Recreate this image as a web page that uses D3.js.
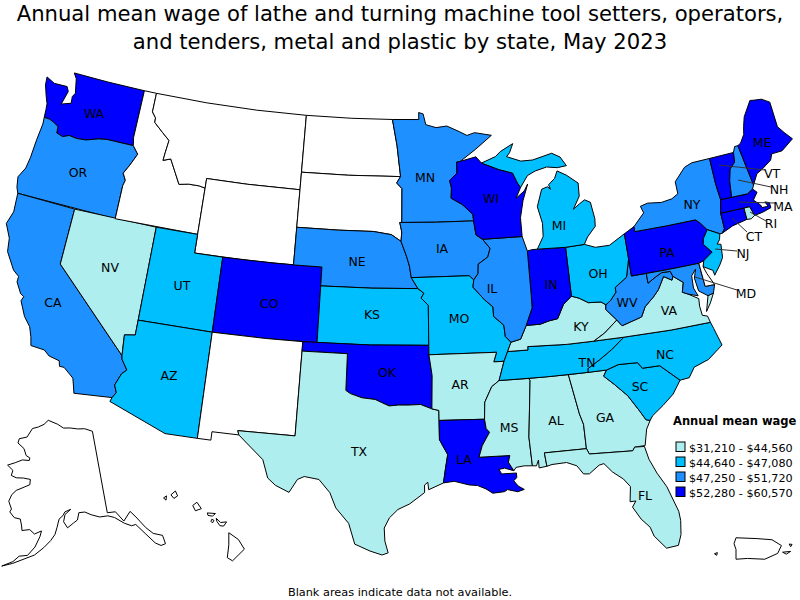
<!DOCTYPE html>
<html><head><meta charset="utf-8">
<script src="https://cdn.jsdelivr.net/npm/d3@7"></script>
<style>html,body{margin:0;background:#fff}svg{display:block}text{font-family:"DejaVu Sans",sans-serif;fill:#000}</style>
</head><body><svg id="c" width="800" height="600"></svg>
<script>
const titleLines=["Annual mean wage of lathe and turning machine tool setters, operators,","and tenders, metal and plastic by state, May 2023"];
const footnote="Blank areas indicate data not available.";
const legendTitle="Annual mean wage";
const binLabels=["$31,210 - $44,560","$44,640 - $47,080","$47,250 - $51,720","$52,280 - $60,570"];
const binColors=["#AFEEEE","#00BFFF","#1E90FF","#0000FF"];
const bin0=["NV","TX","AR","MS","AL","GA","FL","KY","VA","RI"];
const bin1=["UT","AZ","KS","MO","MI","OH","TN","NC","SC","NJ"];
const bin2=["OR","CA","NE","MN","IA","IL","NY","WV","MD","NH"];
const bin3=["WA","CO","OK","LA","WI","IN","PA","ME","VT","MA","CT"];
const bins=[bin0,bin1,bin2,bin3];

// State outlines as longitude/latitude rings
const shapes={
WA:[[[-122.76,49],[-120,49],[-117.03,49],[-117.04,46.42],[-116.92,45.995],[-118.98,46],[-119.6,45.92],[-120.5,45.7],[-121.2,45.65],[-121.8,45.7],[-122.25,45.55],[-122.75,45.65],[-122.8,46],[-123.2,46.15],[-123.55,46.25],[-124,46.27],[-124.05,46.7],[-124.1,47],[-124.35,47.4],[-124.65,47.95],[-124.72,48.38],[-124.03,48.16],[-123,48.19],[-122.8,47.95],[-123.05,47.2],[-122.33,47.39],[-122.39,47.75],[-122.23,47.96],[-122.48,48.73]]],
OR:[[[-124,46.27],[-123.55,46.25],[-123.2,46.15],[-122.8,46],[-122.75,45.65],[-122.25,45.55],[-121.8,45.7],[-121.2,45.65],[-120.5,45.7],[-119.6,45.92],[-118.98,46],[-116.92,45.995],[-116.46,45.6],[-116.85,44.95],[-117.2,44.45],[-116.93,44.1],[-117.03,43.8],[-117.03,42],[-124.21,42],[-124.4,42.3],[-124.55,42.84],[-124.2,43.4],[-124.1,44],[-124.05,45],[-123.95,45.9]]],
CA:[[[-124.21,42],[-120,42],[-120,39],[-114.63,35],[-114.57,34.8],[-114.14,34.3],[-114.43,34.05],[-114.72,33.4],[-114.52,33.03],[-114.72,32.72],[-117.12,32.53],[-117.25,32.9],[-117.4,33.3],[-118.1,33.75],[-118.4,33.75],[-118.5,34.03],[-119.2,34.15],[-119.6,34.4],[-120.5,34.45],[-120.65,34.9],[-120.9,35.4],[-121.4,35.85],[-121.9,36.6],[-121.8,36.85],[-122.05,36.95],[-122.5,37.5],[-122.5,37.8],[-122.95,38.05],[-123.7,38.9],[-123.85,39.6],[-124.35,40.3],[-124.1,41]]],
NV:[[[-120,42],[-114.04,42],[-114.04,36.2],[-114.74,36.1],[-114.63,35],[-120,39]]],
ID:[[[-117.03,49],[-116.05,49],[-116.05,47.98],[-115.72,47.7],[-115.7,47.45],[-114.95,47],[-114.35,46.65],[-114.45,46],[-114.5,45.55],[-113.95,45.7],[-113.45,45.05],[-113,44.45],[-112.3,44.55],[-111.5,44.55],[-111.05,44.48],[-111.05,42],[-117.03,42],[-117.03,43.8],[-116.93,44.1],[-117.2,44.45],[-116.85,44.95],[-116.46,45.6],[-116.92,45.995],[-117.04,46.42]]],
MT:[[[-116.05,49],[-112,49],[-108,49],[-104.05,49],[-104.05,45],[-108,45],[-111.05,45],[-111.05,44.48],[-111.5,44.55],[-112.3,44.55],[-113,44.45],[-113.45,45.05],[-113.95,45.7],[-114.5,45.55],[-114.45,46],[-114.35,46.65],[-114.95,47],[-115.7,47.45],[-115.72,47.7],[-116.05,47.98]]],
WY:[[[-111.05,45],[-108,45],[-104.05,45],[-104.05,41],[-107.5,41],[-111.05,41]]],
UT:[[[-114.04,42],[-111.05,42],[-111.05,41],[-109.05,41],[-109.05,37],[-114.04,37]]],
CO:[[[-109.05,41],[-105.5,41],[-102.05,41],[-102.05,37],[-105.5,37],[-109.05,37]]],
AZ:[[[-114.04,37],[-109.05,37],[-109.05,31.33],[-111.07,31.33],[-114.81,32.5],[-114.72,32.72],[-114.52,33.03],[-114.72,33.4],[-114.43,34.05],[-114.14,34.3],[-114.57,34.8],[-114.63,35],[-114.74,36.1],[-114.04,36.2]]],
NM:[[[-109.05,37],[-105.5,37],[-103,37],[-103,36.5],[-103.04,32],[-106.62,32],[-106.53,31.78],[-108.21,31.78],[-108.21,31.33],[-109.05,31.33]]],
ND:[[[-104.05,49],[-100.5,49],[-97.23,49],[-96.85,47.6],[-96.56,45.94],[-100.5,45.94],[-104.05,45.94]]],
SD:[[[-104.05,45.94],[-100.5,45.94],[-96.56,45.94],[-96.85,45.6],[-96.45,45.3],[-96.45,43.5],[-96.6,43.5],[-96.45,43],[-96.5,42.5],[-97.2,42.85],[-98.5,43],[-101,43],[-104.05,43]]],
NE:[[[-104.05,43],[-101,43],[-98.5,43],[-97.2,42.85],[-96.5,42.5],[-96.1,41.7],[-95.9,41.2],[-95.77,40.58],[-95.31,40],[-98.5,40],[-102.05,40],[-102.05,41],[-104.05,41]]],
KS:[[[-102.05,40],[-98.5,40],[-95.31,40],[-94.9,39.75],[-95.1,39.5],[-94.61,39.11],[-94.62,37],[-98.5,37],[-102.05,37]]],
OK:[[[-103,37],[-98.5,37],[-94.62,37],[-94.62,36.5],[-94.43,35.4],[-94.48,33.64],[-95.2,33.88],[-96,33.85],[-96.6,33.85],[-97.2,33.8],[-97.7,33.98],[-98.1,34.13],[-98.95,34.2],[-99.7,34.4],[-100,34.56],[-100,36.5],[-103,36.5]]],
TX:[[[-103,36.5],[-100,36.5],[-100,34.56],[-99.7,34.4],[-98.95,34.2],[-98.1,34.13],[-97.7,33.98],[-97.2,33.8],[-96.6,33.85],[-96,33.85],[-95.2,33.88],[-94.48,33.64],[-94.04,33.55],[-94.04,33.02],[-94.04,32],[-93.55,31.2],[-93.7,30.5],[-93.85,29.7],[-94.75,29.35],[-94.8,29.75],[-95,29.6],[-95,29.2],[-95.9,28.6],[-96.6,28.3],[-97.1,27.85],[-97.4,27.3],[-97.35,26.6],[-97.15,25.97],[-97.5,25.85],[-98.2,26.05],[-99.1,26.4],[-99.5,27.5],[-100.3,28.3],[-100.7,29.1],[-101.4,29.77],[-102.3,29.88],[-102.7,29.7],[-103.15,28.98],[-104,29.3],[-104.5,29.65],[-104.9,30.6],[-106,31.4],[-106.53,31.78],[-106.62,32],[-103.04,32]]],
MN:[[[-97.23,49],[-95.15,49],[-95.15,49.38],[-94.8,49.3],[-94.6,48.72],[-93.8,48.55],[-92.95,48.62],[-92,48.3],[-91.4,48.07],[-90.8,48.2],[-89.5,48],[-90.8,47.3],[-92,46.7],[-92.29,46.66],[-92.29,46.08],[-92.87,45.7],[-92.75,45.3],[-92.8,44.75],[-92,44.4],[-91.25,43.85],[-91.22,43.5],[-94,43.5],[-96.45,43.5],[-96.45,45.3],[-96.85,45.6],[-96.56,45.94],[-96.85,47.6]]],
IA:[[[-96.45,43.5],[-94,43.5],[-91.22,43.5],[-91.1,42.75],[-90.65,42.5],[-90.15,42],[-90.35,41.55],[-91.05,41.2],[-91.1,40.7],[-91.42,40.38],[-91.73,40.61],[-95.77,40.58],[-95.9,41.2],[-96.1,41.7],[-96.5,42.5],[-96.45,43],[-96.6,43.5]]],
MO:[[[-95.77,40.58],[-91.73,40.61],[-91.42,40.38],[-91.5,40],[-90.75,39.3],[-90.2,38.9],[-90.2,38.4],[-89.55,37.9],[-89.5,37.3],[-89.15,36.98],[-89.42,36.5],[-89.7,36],[-90.37,36],[-90.15,36.5],[-94.62,36.5],[-94.62,37],[-94.61,39.11],[-95.1,39.5],[-94.9,39.75],[-95.31,40]]],
AR:[[[-94.62,36.5],[-90.15,36.5],[-90.37,36],[-89.7,36],[-90.1,35],[-90.6,34.7],[-91.1,33.9],[-91.17,33],[-94.04,33.02],[-94.04,33.55],[-94.48,33.64],[-94.43,35.4]]],
LA:[[[-94.04,33.02],[-91.17,33],[-91.1,32.5],[-90.9,32.3],[-91.4,31.6],[-91.63,31],[-89.73,31],[-89.85,30.65],[-89.55,30.18],[-90.1,30.35],[-90.45,30.3],[-90.3,30.05],[-89.8,30.05],[-89.4,30.05],[-89.4,29.8],[-89.6,29.65],[-89.35,29.35],[-89,29.15],[-89.4,29.05],[-90,29.2],[-90.2,29.1],[-90.9,29.05],[-91.3,29.3],[-91.8,29.5],[-92.3,29.55],[-93.2,29.77],[-93.85,29.7],[-93.7,30.5],[-93.55,31.2],[-94.04,32]]],
MS:[[[-90.1,35],[-88.2,35],[-88.1,34.9],[-88.47,31.9],[-88.4,30.37],[-88.9,30.4],[-89.4,30.35],[-89.55,30.18],[-89.85,30.65],[-89.73,31],[-91.63,31],[-91.4,31.6],[-90.9,32.3],[-91.1,32.5],[-91.17,33],[-91.1,33.9],[-90.6,34.7]]],
AL:[[[-88.2,35],[-85.6,35],[-85.18,32.87],[-85,32.3],[-85,31],[-87.6,31],[-87.52,30.28],[-88,30.23],[-88,30.65],[-88.15,30.35],[-88.4,30.37],[-88.47,31.9],[-88.1,34.9]]],
GA:[[[-85.6,35],[-83.11,35],[-83.35,34.7],[-82.75,34.2],[-82,33.5],[-81.4,32.6],[-81.1,32.1],[-80.85,32.03],[-81.15,31.6],[-81.4,30.75],[-82.05,30.75],[-82.2,30.57],[-84.86,30.7],[-85,31],[-85,32.3],[-85.18,32.87]]],
FL:[[[-87.6,31],[-85,31],[-84.86,30.7],[-82.2,30.57],[-82.05,30.75],[-81.45,30.71],[-81.3,30],[-80.95,29.2],[-80.5,28.4],[-80.05,27],[-80.03,26.5],[-80.15,25.75],[-80.4,25.2],[-81.1,25.15],[-81.7,25.9],[-81.85,26.4],[-82.3,26.9],[-82.7,27.6],[-82.45,27.9],[-82.8,27.9],[-82.65,28.7],[-83,29.15],[-83.6,29.6],[-84.05,30.1],[-84.35,30.05],[-85,29.65],[-85.35,29.68],[-85.7,30.15],[-86.3,30.38],[-87.2,30.35],[-87.52,30.28]]],
SC:[[[-83.35,34.7],[-83.11,35],[-82.3,35.2],[-81.05,35.15],[-80.8,34.82],[-79.67,34.8],[-78.55,33.86],[-79.15,33.2],[-79.9,32.7],[-80.65,32.25],[-80.85,32.03],[-81.1,32.1],[-81.4,32.6],[-82,33.5],[-82.75,34.2]]],
NC:[[[-84.32,35],[-84.3,35.2],[-83.5,35.57],[-82.6,36.03],[-81.68,36.59],[-78.5,36.55],[-75.87,36.55],[-75.75,36.2],[-75.45,35.25],[-76.5,34.65],[-77.5,34.4],[-77.95,33.9],[-78.55,33.86],[-79.67,34.8],[-80.8,34.82],[-81.05,35.15],[-82.3,35.2],[-83.11,35]]],
TN:[[[-90.1,35],[-89.7,36],[-89.42,36.5],[-88.07,36.5],[-88.07,36.68],[-85.5,36.6],[-83.68,36.6],[-81.68,36.59],[-82.6,36.03],[-83.5,35.57],[-84.3,35.2],[-84.32,35],[-87,35]]],
KY:[[[-89.42,36.5],[-89.15,36.98],[-88.5,37.1],[-88.05,37.8],[-87.1,37.8],[-86.5,37.93],[-85.9,38],[-85.4,38.72],[-84.8,39.1],[-84.3,38.95],[-83.7,38.65],[-82.85,38.6],[-82.55,38.42],[-82.6,38.17],[-81.97,37.54],[-82.9,36.95],[-83.68,36.6],[-85.5,36.6],[-88.07,36.68],[-88.07,36.5]]],
VA:[[[-83.68,36.6],[-82.9,36.95],[-81.97,37.54],[-81.68,37.2],[-80.3,37.5],[-79.95,38],[-79.3,38.42],[-78.87,38.76],[-78.35,39.4],[-77.83,39.13],[-77.72,39.32],[-77.1,38.9],[-77.3,38.4],[-76.95,38.25],[-76.3,37.9],[-76.35,37.5],[-76.3,37],[-75.97,36.9],[-75.87,36.55],[-78.5,36.55],[-81.68,36.59]],[[-75.97,37.15],[-75.6,37.55],[-75.25,38.03],[-75.65,37.95]]],
WV:[[[-81.97,37.54],[-82.6,38.17],[-82.55,38.42],[-82.2,38.6],[-81.75,39],[-81.75,39.25],[-80.87,39.7],[-80.52,40.64],[-80.52,39.72],[-79.48,39.72],[-79.48,39.2],[-78.9,39.45],[-78.43,39.62],[-77.83,39.6],[-77.72,39.32],[-77.83,39.13],[-78.35,39.4],[-78.87,38.76],[-79.3,38.42],[-79.95,38],[-80.3,37.5],[-81.68,37.2]]],
OH:[[[-84.8,41.7],[-83.45,41.73],[-82.7,41.5],[-81.7,41.5],[-80.52,41.98],[-80.52,40.64],[-80.87,39.7],[-81.75,39.25],[-81.75,39],[-82.2,38.6],[-82.55,38.42],[-82.85,38.6],[-83.7,38.65],[-84.3,38.95],[-84.8,39.1]]],
IN:[[[-87.52,41.71],[-87.2,41.76],[-86.8,41.76],[-84.8,41.7],[-84.8,39.1],[-85.4,38.72],[-85.9,38],[-86.5,37.93],[-87.1,37.8],[-88.05,37.8],[-87.55,38.7],[-87.53,39.35]]],
IL:[[[-90.65,42.5],[-87.8,42.5],[-87.52,41.71],[-87.53,39.35],[-87.55,38.7],[-88.05,37.8],[-88.5,37.1],[-89.15,36.98],[-89.5,37.3],[-89.55,37.9],[-90.2,38.4],[-90.2,38.9],[-90.75,39.3],[-91.5,40],[-91.42,40.38],[-91.1,40.7],[-91.05,41.2],[-90.35,41.55],[-90.15,42]]],
WI:[[[-92.29,46.66],[-92,46.7],[-90.8,46.9],[-90.4,46.55],[-89.1,46.14],[-88.1,45.9],[-87.8,45.35],[-87.6,45.1],[-88,44.55],[-87.35,44.9],[-87.05,45.25],[-87.5,44.4],[-87.8,43.5],[-87.8,42.5],[-90.65,42.5],[-91.1,42.75],[-91.22,43.5],[-91.25,43.85],[-92,44.4],[-92.8,44.75],[-92.75,45.3],[-92.87,45.7],[-92.29,46.08]]],
MI:[[[-86.8,41.76],[-84.8,41.7],[-83.45,41.73],[-83.15,42.1],[-82.5,42.6],[-82.45,43],[-82.6,43.9],[-83,44.07],[-83.4,43.9],[-83.9,43.65],[-83.35,44.3],[-83.3,45],[-84.1,45.5],[-84.75,45.78],[-85,45.4],[-85.5,45.1],[-85.4,44.85],[-85.6,45],[-86.05,44.9],[-86.5,44],[-86.25,43.1],[-86.3,42.4]],[[-90.4,46.55],[-89.3,46.85],[-88.9,47.1],[-87.9,47.47],[-88.2,47],[-88.45,46.8],[-87.4,46.5],[-86.5,46.5],[-85,46.75],[-84.4,46.5],[-84,46],[-84.7,45.95],[-85.5,46.05],[-86.4,45.9],[-87,45.7],[-87.6,45.1],[-87.8,45.35],[-88.1,45.9],[-89.1,46.14]]],
PA:[[[-80.52,41.98],[-79.76,42.27],[-79.76,42],[-77.5,42],[-75.35,42],[-75.05,41.75],[-74.7,41.36],[-75.1,40.95],[-75.2,40.65],[-74.72,40.15],[-75.42,39.8],[-75.79,39.72],[-78,39.72],[-80.52,39.72],[-80.52,40.64]]],
NY:[[[-79.76,42.27],[-79.76,42],[-77.5,42],[-75.35,42],[-75.05,41.75],[-74.7,41.36],[-73.9,41],[-73.73,41],[-73.5,41.2],[-73.5,42.05],[-73.27,42.75],[-73.35,43.6],[-73.34,45.01],[-74.7,45],[-75.3,44.85],[-76.2,44.2],[-76.2,43.55],[-76.7,43.35],[-77.5,43.27],[-78.5,43.37],[-79.05,43.27],[-78.9,42.9]]],
NJ:[[[-74.7,41.36],[-73.9,41],[-74.02,40.7],[-74.25,40.5],[-74,40.45],[-74.1,39.75],[-74.4,39.4],[-74.9,38.93],[-74.95,39.2],[-75.55,39.5],[-75.42,39.8],[-74.72,40.15],[-75.2,40.65],[-75.1,40.95]]],
CT:[[[-73.5,42.05],[-71.8,42.02],[-71.8,41.4],[-72.9,41.25],[-73.73,41],[-73.5,41.2]]],
RI:[[[-71.8,42.02],[-71.38,42.02],[-71.2,41.5],[-71.5,41.37],[-71.8,41.4]]],
MA:[[[-73.5,42.05],[-73.27,42.75],[-72.46,42.73],[-71.3,42.7],[-70.85,42.88],[-70.6,42.65],[-71,42.3],[-70.6,41.95],[-70.55,41.8],[-70.1,41.78],[-70.25,42.05],[-69.95,41.95],[-69.95,41.67],[-70.6,41.55],[-71.2,41.5],[-71.38,42.02],[-71.8,42.02]]],
VT:[[[-73.34,45.01],[-71.5,45.01],[-71.6,44.5],[-72.05,44.2],[-72.3,43.6],[-72.46,42.73],[-73.27,42.75],[-73.35,43.6]]],
NH:[[[-71.5,45.01],[-71.3,45.3],[-71.05,45.3],[-70.7,43.07],[-70.85,42.88],[-71.3,42.7],[-72.46,42.73],[-72.3,43.6],[-72.05,44.2],[-71.6,44.5]]],
ME:[[[-71.05,45.3],[-70.8,45.4],[-70.4,45.8],[-70.25,46.2],[-70,46.7],[-69.23,47.46],[-69,47.42],[-68.35,47.35],[-67.8,47.07],[-67.8,45.7],[-67.45,45.3],[-67,44.85],[-68,44.4],[-68.8,44.4],[-69,44.1],[-69.8,43.75],[-70.25,43.6],[-70.7,43.07]]],
MD:[[[-79.48,39.72],[-78,39.72],[-75.79,39.72],[-75.7,38.46],[-75.05,38.45],[-75.25,38.03],[-75.65,37.95],[-76.2,38.3],[-76.3,39],[-76.1,39.45],[-76.45,39.15],[-76.5,38.5],[-76.3,38.05],[-76.95,38.25],[-77.3,38.4],[-77.1,38.9],[-77.72,39.32],[-77.83,39.6],[-78.43,39.62],[-78.9,39.45],[-79.48,39.2]]],
DE:[[[-75.79,39.72],[-75.42,39.8],[-75.55,39.5],[-75.4,39.1],[-75.05,38.45],[-75.7,38.46]]]
};
const alaskaShape=[[[-141,69.65],[-143.5,70.1],[-146,70.2],[-148.5,70.4],[-151,70.45],[-153,70.9],[-156.5,71.35],[-158,70.85],[-160,70.5],[-162,70.25],[-163.5,69.2],[-166,68.85],[-166.2,68.35],[-164,67.85],[-163,67.1],[-161.8,66.9],[-161.9,66.6],[-164,66.55],[-166,66.1],[-168.1,65.65],[-166.3,65.2],[-166.5,64.6],[-165,64.45],[-163,64.55],[-161,64.5],[-161,63.9],[-162.5,63.55],[-164.5,63.05],[-165.5,62.5],[-166,61.7],[-165,60.9],[-165.3,60.55],[-164,60],[-162.5,59.95],[-162,59.2],[-161.8,58.7],[-160,58.9],[-158.8,58.45],[-157.2,58.85],[-157.5,58.2],[-158.5,57],[-160,56],[-161.8,55.8],[-163,55.1],[-165.2,54.4],[-163,54.9],[-160.5,55.6],[-158.5,56.1],[-156.5,57],[-155,57.8],[-154,58.5],[-153.5,59.3],[-153,60.2],[-152,60.6],[-151.5,61],[-150,61.25],[-151.5,60.7],[-151.9,59.9],[-151,59.2],[-149.5,59.7],[-148.5,60],[-148,60.8],[-146.5,60.8],[-145,60.4],[-143,60],[-141,59.95],[-139.5,59.6],[-137.5,58.7],[-136,58.2],[-135,58.2],[-133.5,56.9],[-132,55.5],[-131,55],[-130,55],[-130,56],[-131.8,56.6],[-133,57.5],[-134.5,59],[-135.5,59.8],[-137.5,58.95],[-139,60.2],[-141,60.3]]];
const hawaiiShape=[
[[-155.85,20.27],[-155.2,19.95],[-154.8,19.5],[-155.6,18.95],[-155.95,19.1],[-155.85,19.7]],
[[-156.7,20.95],[-156.4,20.75],[-156,20.78],[-156.2,20.58],[-156.45,20.6],[-156.65,20.8]],
[[-157.3,21.2],[-156.75,21.17],[-156.95,21.05],[-157.25,21.08]],
[[-157,20.9],[-156.85,20.85],[-156.95,20.73],[-157.05,20.8]],
[[-158.28,21.55],[-158,21.7],[-157.7,21.4],[-158.1,21.3]],
[[-159.75,22.05],[-159.45,22.23],[-159.3,22],[-159.55,21.88]],
[[-160.25,21.9],[-160.05,22],[-160.08,21.8]]];
const ricoShape=[
[[-67.2,18.5],[-66.5,18.48],[-65.95,18.45],[-65.62,18.3],[-65.75,18.1],[-66.2,17.95],[-66.8,17.97],[-67.2,17.95],[-67.2,18.2],[-67.27,18.35]],
[[-65.58,18.13],[-65.3,18.15],[-65.45,18.08]],
[[-65.35,18.34],[-65.25,18.33],[-65.3,18.27]],
[[-67.95,18.09],[-67.85,18.12],[-67.87,18.05]]];

// State label anchors and leader lines (layout)
const labelAt={WA:[94,113],OR:[78,172],CA:[53,302],NV:[110,267],UT:[182,285],AZ:[169,375],CO:[269,303],NE:[357,261],KS:[372,314],OK:[387,372],TX:[359,451],MN:[425,177],IA:[442,248],MO:[459,318],AR:[460,384],LA:[464,459],MS:[509,427],AL:[556,420],GA:[605,417],FL:[645,495],SC:[640,386],NC:[665,354],TN:[587,362],KY:[581,326],IL:[492,288],WI:[491,198],MI:[559,225],IN:[551,284],OH:[598,273],WV:[627,302],VA:[669,310],PA:[667,252],NY:[692,204],ME:[762,142],VT:[772,173],NH:[779,189],MA:[783,206],RI:[771,223],CT:[754,236],NJ:[743,253],MD:[746,293]};
const leaders=[[719,165,765,170],[738,180,771,187],[739,202,775,203],[750,212,766,221],[732,218,747,232],[715,249,737,251],[695,277,737,290]];

const svg=d3.select("#c");
const conus=d3.geoConicEqualArea().parallels([29.5,45.5]).rotate([96,0]).center([0,37.5]).scale(1).translate([0,0]);
const akCone=d3.geoConicEqualArea().parallels([55,65]).rotate([154,0]).center([0,60]).scale(1).translate([0,0]);
const stretched=(proj,x0,sx,y0,sy)=>d3.geoPath(d3.geoTransform({point(lon,lat){const p=proj([lon,lat]);this.stream.point(x0+sx*p[0],y0+sy*p[1]);}}));
const linear=(lx,ly)=>d3.geoPath(d3.geoTransform({point(lon,lat){this.stream.point(lx(lon),ly(lat));}}));
const pathUS=stretched(conus,408,1090,336,1075);
const pathAK=stretched(akCone,55,470,521,510);
const pathHI=linear(d3.scaleLinear().domain([-155.5,-160.15]).range([234,165]),d3.scaleLinear().domain([19.6,21.9]).range([547,498]));
const pathPR=linear(d3.scaleLinear().domain([-67.27,-65.6]).range([734,782]),d3.scaleLinear().domain([17.93,18.52]).range([560,537]));
const multi=rings=>({type:"MultiPolygon",coordinates:rings.map(r=>[r.concat([r[0]])])});
const fillOf=k=>{const i=bins.findIndex(b=>b.includes(k));return i<0?"#fff":binColors[i];};

const map=svg.append("g").attr("stroke","#000").attr("stroke-width",1).attr("stroke-linejoin","round");
map.selectAll("path.st").data(Object.keys(shapes)).join("path").attr("class","st")
  .attr("d",k=>pathUS(multi(shapes[k]))).attr("fill",fillOf);
map.append("path").attr("d",pathAK(multi(alaskaShape))).attr("fill","#fff");
map.append("path").attr("d",pathHI(multi(hawaiiShape))).attr("fill","#fff");
map.append("path").attr("d",pathPR(multi(ricoShape))).attr("fill","#fff");

svg.append("g").attr("stroke","#333").attr("stroke-width",1).selectAll("line").data(leaders).join("line")
  .attr("x1",d=>d[0]).attr("y1",d=>d[1]).attr("x2",d=>d[2]).attr("y2",d=>d[3]);
svg.append("g").selectAll("text").data(Object.keys(labelAt)).join("text")
  .attr("x",k=>labelAt[k][0]).attr("y",k=>labelAt[k][1]+5).attr("text-anchor","middle").attr("font-size",12.5).text(k=>k);

svg.append("g").selectAll("text").data(titleLines).join("text")
  .attr("x",400).attr("y",(d,i)=>21+i*28).attr("text-anchor","middle").attr("font-size",21.15).text(d=>d);
svg.append("text").attr("x",400).attr("y",596).attr("text-anchor","middle").attr("font-size",11.3).text(footnote);

const lg=svg.append("g");
lg.append("text").attr("x",673).attr("y",425).attr("font-size",11.5).attr("font-weight","bold").text(legendTitle);
const row=lg.selectAll("g").data(binLabels).join("g").attr("transform",(d,i)=>`translate(0,${442+i*15})`);
row.append("rect").attr("x",676).attr("y",0).attr("width",9).attr("height",9.5).attr("stroke","#000").attr("fill",(d,i)=>binColors[i]);
row.append("text").attr("x",689).attr("y",9.5).attr("font-size",11.2).text(d=>d);
</script></body></html>
